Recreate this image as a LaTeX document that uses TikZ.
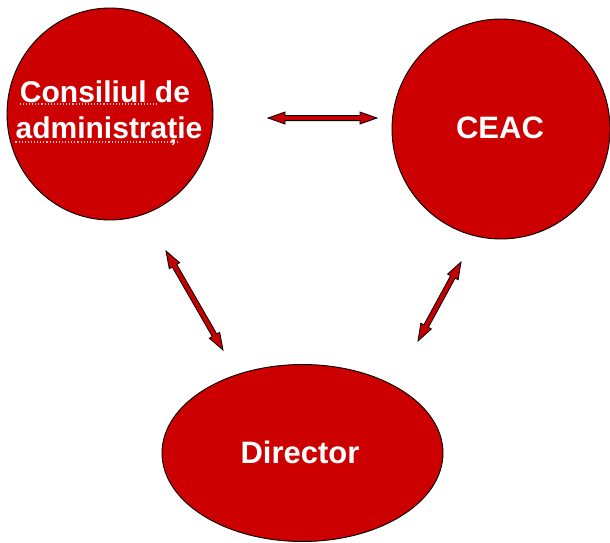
\documentclass[tikz,border=0pt]{standalone}
\usepackage{fontspec}
\setmainfont{Liberation Sans}
\usetikzlibrary{shapes.geometric,calc}
\definecolor{fillred}{RGB}{204,0,0}
\definecolor{arrred}{RGB}{196,0,0}
\def\arrhl{17pt}
\def\arrhw{6pt}
\def\arrsw{2.6pt}
\newcommand\dblarr[2]{%
  \coordinate (#1-p) at ($(#1)!\arrhl!(#2)$);
  \coordinate (#1-q) at ($(#2)!\arrhl!(#1)$);
  \draw[blockarr] (#1) -- ($(#1-p)!\arrhw!90:(#2)$) -- ($(#1-p)!\arrsw!90:(#2)$)
    -- ($(#1-q)!\arrsw!-90:(#1)$) -- ($(#1-q)!\arrhw!-90:(#1)$) -- (#2)
    -- ($(#1-q)!\arrhw!90:(#1)$) -- ($(#1-q)!\arrsw!90:(#1)$)
    -- ($(#1-p)!\arrsw!-90:(#2)$) -- ($(#1-p)!\arrhw!-90:(#2)$) -- cycle;}
\begin{document}
\begin{tikzpicture}[x=1pt,y=-1pt,
  blob/.style={ellipse, draw=black, line width=0.9pt, fill=fillred, inner sep=0pt},
  lbl/.style={text=white, inner sep=0pt, anchor=base, font=\fontsize{31}{36}\selectfont\bfseries},
  lbls/.style={lbl, font=\fontsize{30}{36}\selectfont\bfseries},
  blockarr/.style={draw=black, fill=arrred, line width=0.8pt, line join=miter},
  squig/.style={draw=red!25!white, dotted, line width=1.1pt}]
\useasboundingbox (0,0) rectangle (610,543);
\node[blob, minimum width=206pt, minimum height=212pt] (cons) at (110,114) {};
\node[blob, minimum width=218pt, minimum height=220pt] (ceac) at (501,129) {};
\node[blob, minimum width=281pt, minimum height=177pt] (dir) at (302.5,453) {};
\node[lbls] (cons1) at (105,102) {Consiliul de};
\node[lbls] (cons2) at (109,138) {administrație};
\node[lbl] (ceact) at (500,138) {CEAC};
\node[lbl] (dirt) at (300,463) {Director};
\draw[squig] ([yshift=-2pt]cons1.base west) -- ++(138,0);
\draw[squig] ([yshift=-4pt]cons2.base west) -- ++(162,0);
\coordinate (h1) at (268,118);
\coordinate (h2) at (377,118);
\coordinate (l1) at (166,251);
\coordinate (l2) at (223,350);
\coordinate (r1) at (461,262);
\coordinate (r2) at (418,341);
\dblarr{h1}{h2}
\dblarr{l1}{l2}
\dblarr{r1}{r2}
\end{tikzpicture}
\end{document}
